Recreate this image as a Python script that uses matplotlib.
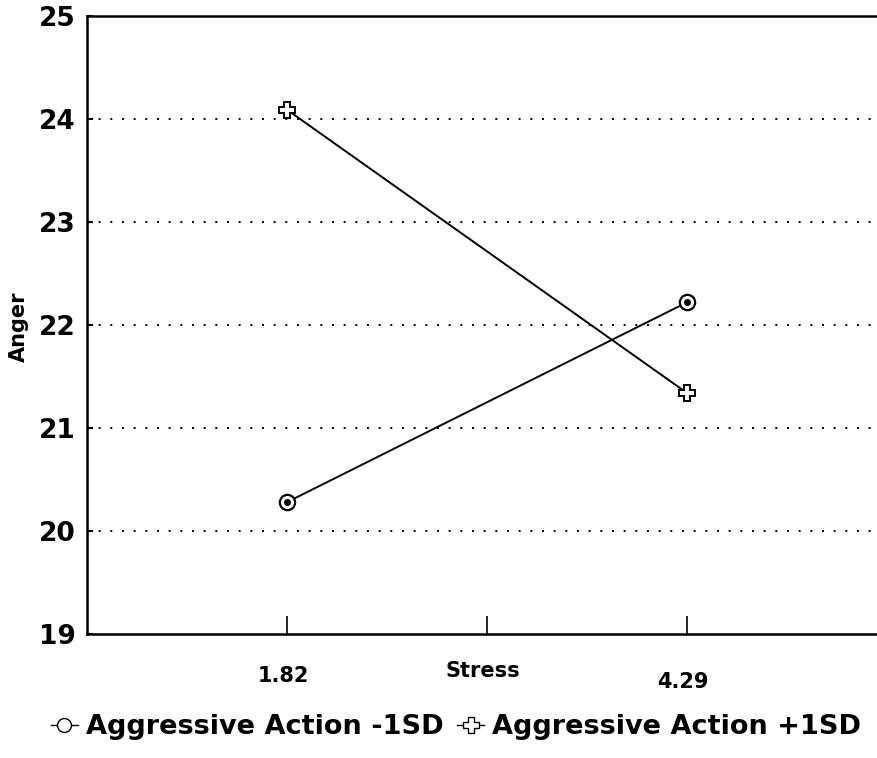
import matplotlib
matplotlib.use("Agg")
import matplotlib.pyplot as plt
from matplotlib.lines import Line2D
from matplotlib import transforms

plt.rcParams['font.family'] = ['DejaVu Sans']
plt.rcParams['font.weight'] = 'bold'

# data
stress_pos = [1, 3]
stress_labels = ["1.82", "Stress", "4.29"]
label_pos = [1, 2, 3]
label_dy = [0, 5, -6]
low_agg = [20.28, 22.22]
high_agg = [24.09, 21.34]
series_names = ["Aggressive Action -1SD", "Aggressive Action +1SD"]
y_ticks = [19, 20, 21, 22, 23, 24, 25]

fig = plt.figure(figsize=(8.77, 7.58), dpi=100)
ax = fig.add_axes([87/877, (758-634)/758, 800/877, 618/758])

ax.plot(stress_pos, low_agg, color="black", lw=1.4, marker="o", ms=11,
        mfc="white", mec="black", mew=1.6, zorder=3)
ax.plot(stress_pos, low_agg, ls="", marker="o", ms=4, color="black", zorder=4)
ax.plot(stress_pos, high_agg, color="black", lw=1.4, marker="P", ms=12,
        mfc="white", mec="black", mew=1.4, zorder=3)

for yv in y_ticks[1:-1]:
    ax.axhline(yv, color="black", lw=1.4, ls=(0, (1, 5)), zorder=1)

ax.set_xlim(0, 4)
ax.set_ylim(19, 25)
ax.set_yticks(y_ticks)
ax.set_yticklabels([str(v) for v in y_ticks], fontsize=19, fontweight="bold")
ax.set_xticks(label_pos)
ax.set_xticklabels([])
ax.tick_params(axis="x", direction="in", length=13, width=1.2, color="black")
ax.tick_params(axis="y", direction="in", length=4, width=1.5, pad=8)
for s in ["left", "bottom", "top"]:
    ax.spines[s].set_linewidth(1.8)
ax.spines["right"].set_visible(False)

trans = transforms.blended_transform_factory(ax.transData, fig.transFigure)
for xp, lab, dy in zip(label_pos, stress_labels, label_dy):
    ax.text(xp - 0.02, (758 - 676 + dy) / 758, lab, transform=trans, ha="center",
            va="center", fontsize=15, fontweight="bold")

fig.text(19/877, (758-327)/758, "Anger", rotation=90, ha="center", va="center",
         fontsize=15, fontweight="bold")

handles = [
    Line2D([], [], color="black", lw=1, marker="o", ms=10, mfc="white", mec="black"),
    Line2D([], [], color="black", lw=1, marker="P", ms=11, mfc="white", mec="black"),
]
fig.legend(handles, series_names, loc="center", bbox_to_anchor=(0.52, (758-727)/758),
           ncol=2, frameon=False, handlelength=1.0, handletextpad=0.3,
           columnspacing=0.5, borderpad=0, prop={"weight": "bold", "size": 19.5})

fig.savefig("out.png", dpi=100)
